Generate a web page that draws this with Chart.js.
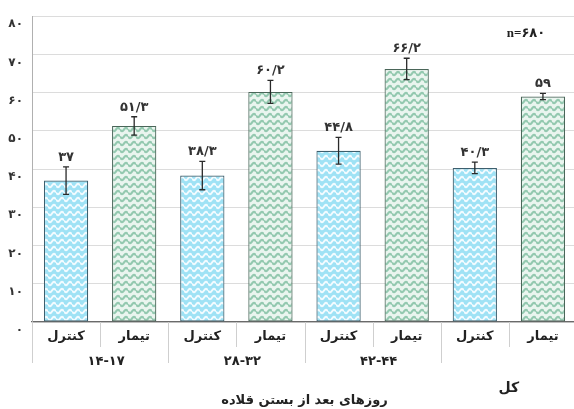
<!DOCTYPE html>
<html>
<head>
<meta charset="utf-8">
<script src="https://cdn.jsdelivr.net/npm/chart.js@4.4.1/dist/chart.umd.min.js"></script>
<style>
html,body{margin:0;padding:0;overflow:hidden;background:#fff;}
canvas{display:block;}
</style>
</head>
<body>
<canvas id="c" width="577" height="409"></canvas>
<script>
// ---- data ----
const categories = ["کنترل","تیمار","کنترل","تیمار","کنترل","تیمار","کنترل","تیمار"];
const groupLabels = ["۱۴-۱۷","۲۸-۳۲","۴۲-۴۴","کل"];
const values = [37, 51.3, 38.3, 60.2, 44.8, 66.2, 40.3, 59];
const errors = [3.6, 2.4, 3.7, 3.0, 3.5, 2.8, 1.5, 0.8];
const isTreatment = [false,true,false,true,false,true,false,true];
const yTickLabels = ["۰","۱۰","۲۰","۳۰","۴۰","۵۰","۶۰","۷۰","۸۰"];
const axisTitle = "روزهای بعد از بستن قلاده";
const sampleNote = "n=۶۸۰";

const FA = "۰۱۲۳۴۵۶۷۸۹";
function toFa(v){
  return String(v).replace('.', '/').replace(/[0-9]/g, d => FA[+d]);
}

function wavePattern(bg, fg, lw){
  const W = 8, H = 7;
  const c = document.createElement('canvas');
  c.width = W; c.height = H;
  const g = c.getContext('2d');
  g.fillStyle = bg; g.fillRect(0,0,W,H);
  g.strokeStyle = fg; g.lineWidth = lw;
  for (const off of [-H,0,H]){
    g.beginPath();
    for (let x=0; x<=W+0.01; x+=0.5){
      const y = H/2 + off + 1.7*Math.sin(x/W*2*Math.PI);
      if (x===0) g.moveTo(x,y); else g.lineTo(x,y);
    }
    g.stroke();
  }
  return g.createPattern(c,'repeat');
}
const ctrlPat = wavePattern('#9fe2f5', '#f2fbff', 2.0);
const trtPat = wavePattern('#eaf5ef', '#94c9b0', 2.2);

const FONT = '"DejaVu Sans", "Noto Sans", sans-serif';

const overlay = {
  id: 'overlay',
  afterDatasetsDraw(chart){
    const ctx = chart.ctx;
    const xs = chart.scales.x, ys = chart.scales.y;
    const area = chart.chartArea;
    ctx.save();
    // error bars
    values.forEach((v,i)=>{
      const x = xs.getPixelForValue(i);
      const yt = ys.getPixelForValue(v+errors[i]);
      const yb = ys.getPixelForValue(v-errors[i]);
      ctx.strokeStyle = '#2a2a2a';
      ctx.lineWidth = 1.3;
      ctx.beginPath();
      ctx.moveTo(x, yt); ctx.lineTo(x, yb);
      ctx.moveTo(x-3, yt); ctx.lineTo(x+3, yt);
      ctx.moveTo(x-3, yb); ctx.lineTo(x+3, yb);
      ctx.stroke();
      // value label
      ctx.fillStyle = '#333';
      ctx.font = 'bold 13px ' + FONT;
      ctx.textAlign = 'center';
      ctx.textBaseline = 'bottom';
      ctx.fillText('\u202D' + toFa(v) + '\u202C', x, yt - 3);
    });
    // separators below axis
    ctx.strokeStyle = '#cfcfcf';
    ctx.lineWidth = 1;
    for (let i=0; i<=categories.length; i++){
      let bx;
      if (i===0) bx = area.left;
      else if (i===categories.length) bx = area.right;
      else bx = (xs.getPixelForValue(i-1)+xs.getPixelForValue(i))/2;
      const long = (i%2===0);
      ctx.beginPath();
      ctx.moveTo(Math.round(bx)+0.5, area.bottom);
      ctx.lineTo(Math.round(bx)+0.5, area.bottom + (long ? 41 : 25));
      ctx.stroke();
    }
    // group labels
    ctx.fillStyle = '#222';
    ctx.textAlign = 'center';
    ctx.textBaseline = 'middle';
    groupLabels.forEach((g,k)=>{
      const cx = (xs.getPixelForValue(2*k)+xs.getPixelForValue(2*k+1))/2;
      const last = (k===groupLabels.length-1);
      ctx.font = 'bold ' + (last ? 14 : 13) + 'px ' + FONT;
      ctx.fillText(last ? g : '\u202D' + g + '\u202C', last ? cx : cx + 6, last ? area.bottom + 66 : area.bottom + 40);
    });
    // axis title
    ctx.font = 'bold 13px ' + FONT;
    ctx.fillText(axisTitle, (area.left + area.right)/2, area.bottom + 79);
    // n label
    ctx.font = 'bold 13px "Liberation Serif", ' + FONT;
    ctx.fillText(sampleNote, 526, area.top + 17);
    ctx.restore();
  }
};

new Chart(document.getElementById('c'), {
  type: 'bar',
  data: {
    labels: categories,
    datasets: [{
      data: values,
      backgroundColor: isTreatment.map(t => t ? trtPat : ctrlPat),
      borderColor: isTreatment.map(t => t ? '#4a6659' : '#3d5f6e'),
      borderWidth: 1.2,
      borderSkipped: false,
      categoryPercentage: 1,
      barPercentage: 0.65
    }]
  },
  options: {
    responsive: false,
    animation: false,
    devicePixelRatio: 1,
    layout: { padding: { top: 16, right: 0, left: 0, bottom: 0 } },
    plugins: { legend: { display: false }, tooltip: { enabled: false }, title: { display: false } },
    scales: {
      x: {
        grid: { display: false, drawTicks: false },
        border: { display: true, color: '#6a6a6a', width: 1.2 },
        ticks: {
          color: '#222',
          font: { family: FONT, size: 13, weight: 'bold' },
          padding: 7,
          maxRotation: 0,
          autoSkip: false
        },
        afterFit(s){ s.height = 87; }
      },
      y: {
        min: 0, max: 80,
        grid: { color: '#dcdcdc', lineWidth: 1, drawTicks: false },
        border: { display: true, color: '#b0b0b0', width: 1 },
        ticks: {
          stepSize: 10,
          color: '#333',
          font: { family: FONT, size: 12, weight: 'bold' },
          padding: 9,
          labelOffset: 8,
          callback: (v, i) => yTickLabels[i]
        },
        afterFit(s){ s.width = 32; }
      }
    }
  },
  plugins: [overlay]
});
</script>
</body>
</html>
